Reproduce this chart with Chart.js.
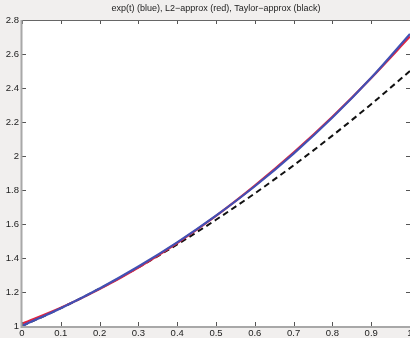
<!DOCTYPE html>
<html lang="en">
<head>
    <meta charset="UTF-8">
    <title>exp approximations</title>
    <script src="https://cdn.jsdelivr.net/npm/chart.js"></script>
    <style>
        html, body {
            margin: 0;
            padding: 0;
            background-color: #f1efee;
        }
        #wrap {
            width: 410px;
            height: 338px;
        }
    </style>
</head>
<body>
    <div id="wrap"><canvas id="myChart" width="410" height="338"></canvas></div>

    <script>
        // values
        const chartTitle = 'exp(t) (blue), L2\u2212approx (red), Taylor\u2212approx (black)';
        const tValues = [0, 0.1, 0.2, 0.3, 0.4, 0.5, 0.6, 0.7, 0.8, 0.9, 1];
        const expValues = [1.000, 1.105, 1.221, 1.350, 1.492, 1.649, 1.822, 2.014, 2.226, 2.460, 2.718];
        const l2Values = [1.013, 1.107, 1.217, 1.344, 1.488, 1.648, 1.826, 2.020, 2.231, 2.459, 2.703];
        const taylorValues = [1.000, 1.105, 1.220, 1.345, 1.480, 1.625, 1.780, 1.945, 2.120, 2.305, 2.500];
        const xTicks = [0, 0.1, 0.2, 0.3, 0.4, 0.5, 0.6, 0.7, 0.8, 0.9, 1];
        const yTicks = [1, 1.2, 1.4, 1.6, 1.8, 2, 2.2, 2.4, 2.6, 2.8];

        const tickFont = { size: 9.5, family: '"Liberation Sans", Arial, sans-serif' };

        function toPoints(ys) {
            return tValues.map((t, i) => ({ x: t, y: ys[i] }));
        }

        // white plot box on grey figure background, inward ticks, title
        const matlabFrame = {
            id: 'matlabFrame',
            beforeDraw(chart) {
                const { ctx, chartArea: a } = chart;
                ctx.save();
                ctx.fillStyle = '#f1efee';
                ctx.fillRect(0, 0, chart.width, chart.height);
                ctx.fillStyle = '#ffffff';
                ctx.fillRect(a.left, a.top, a.right - a.left, a.bottom - a.top);
                ctx.restore();
            },
            afterDraw(chart) {
                const { ctx, chartArea: a, scales } = chart;
                ctx.save();
                ctx.strokeStyle = '#555555';
                ctx.lineWidth = 1;
                ctx.beginPath();
                xTicks.forEach(v => {
                    const px = Math.round(scales.x.getPixelForValue(v)) + 0.5;
                    ctx.moveTo(px, a.bottom);
                    ctx.lineTo(px, a.bottom - 4);
                    ctx.moveTo(px, a.top);
                    ctx.lineTo(px, a.top + 4);
                });
                yTicks.forEach(v => {
                    const py = Math.round(scales.y.getPixelForValue(v)) + 0.5;
                    ctx.moveTo(a.left, py);
                    ctx.lineTo(a.left + 4, py);
                    ctx.moveTo(a.right, py);
                    ctx.lineTo(a.right - 4, py);
                });
                ctx.stroke();
                // box
                ctx.strokeStyle = '#666666';
                ctx.beginPath();
                ctx.moveTo(a.left, a.top + 0.5);
                ctx.lineTo(a.right, a.top + 0.5);
                ctx.stroke();
                ctx.strokeStyle = '#a8a8a8';
                ctx.lineWidth = 2;
                ctx.beginPath();
                ctx.moveTo(a.left - 0.5, a.top);
                ctx.lineTo(a.left - 0.5, a.bottom + 1);
                ctx.lineTo(a.right, a.bottom + 1);
                ctx.stroke();
                // title
                ctx.fillStyle = '#222222';
                ctx.font = '9px "Liberation Sans", Arial, sans-serif';
                ctx.textAlign = 'center';
                ctx.textBaseline = 'middle';
                ctx.fillText(chartTitle, (a.left + a.right) / 2, 9);
                ctx.restore();
            }
        };

        const ctx = document.getElementById('myChart').getContext('2d');
        const myChart = new Chart(ctx, {
            type: 'line',
            data: {
                datasets: [
                    {
                        label: 'L2-approx',
                        data: toPoints(l2Values),
                        borderColor: '#e3243f',
                        borderWidth: 2.2,
                        cubicInterpolationMode: 'monotone',
                        pointRadius: 0,
                        order: 2
                    },
                    {
                        label: 'exp(t)',
                        data: toPoints(expValues),
                        borderColor: '#4250b4',
                        borderWidth: 2.2,
                        cubicInterpolationMode: 'monotone',
                        pointRadius: 0,
                        order: 1
                    },
                    {
                        label: 'Taylor-approx',
                        data: toPoints(taylorValues),
                        borderColor: '#111111',
                        borderWidth: 2,
                        borderDash: [6, 4],
                        cubicInterpolationMode: 'monotone',
                        pointRadius: 0,
                        order: 3
                    }
                ]
            },
            options: {
                responsive: false,
                animation: false,
                layout: { padding: { top: 20, right: 0, left: 0, bottom: 0 } },
                plugins: {
                    legend: { display: false },
                    title: { display: false },
                    tooltip: { enabled: false }
                },
                scales: {
                    x: {
                        type: 'linear',
                        min: 0,
                        max: 1,
                        afterBuildTicks: s => { s.ticks = xTicks.map(v => ({ value: v })); },
                        afterFit: s => { s.height = 12; s.paddingRight = 0; s.paddingLeft = 0; },
                        grid: { display: false, drawTicks: false },
                        border: { display: false },
                        ticks: {
                            padding: 2,
                            maxRotation: 0,
                            autoSkip: false,
                            color: '#222222',
                            font: tickFont,
                            callback: v => String(v)
                        }
                    },
                    y: {
                        min: 1,
                        max: 2.8,
                        afterBuildTicks: s => { s.ticks = yTicks.map(v => ({ value: v })); },
                        afterFit: s => { s.width = 22; s.paddingTop = 0; s.paddingBottom = 0; },
                        grid: { display: false, drawTicks: false },
                        border: { display: false },
                        ticks: {
                            padding: 3,
                            autoSkip: false,
                            color: '#222222',
                            font: tickFont,
                            callback: v => String(v)
                        }
                    }
                }
            },
            plugins: [matlabFrame]
        });
    </script>
</body>
</html>
